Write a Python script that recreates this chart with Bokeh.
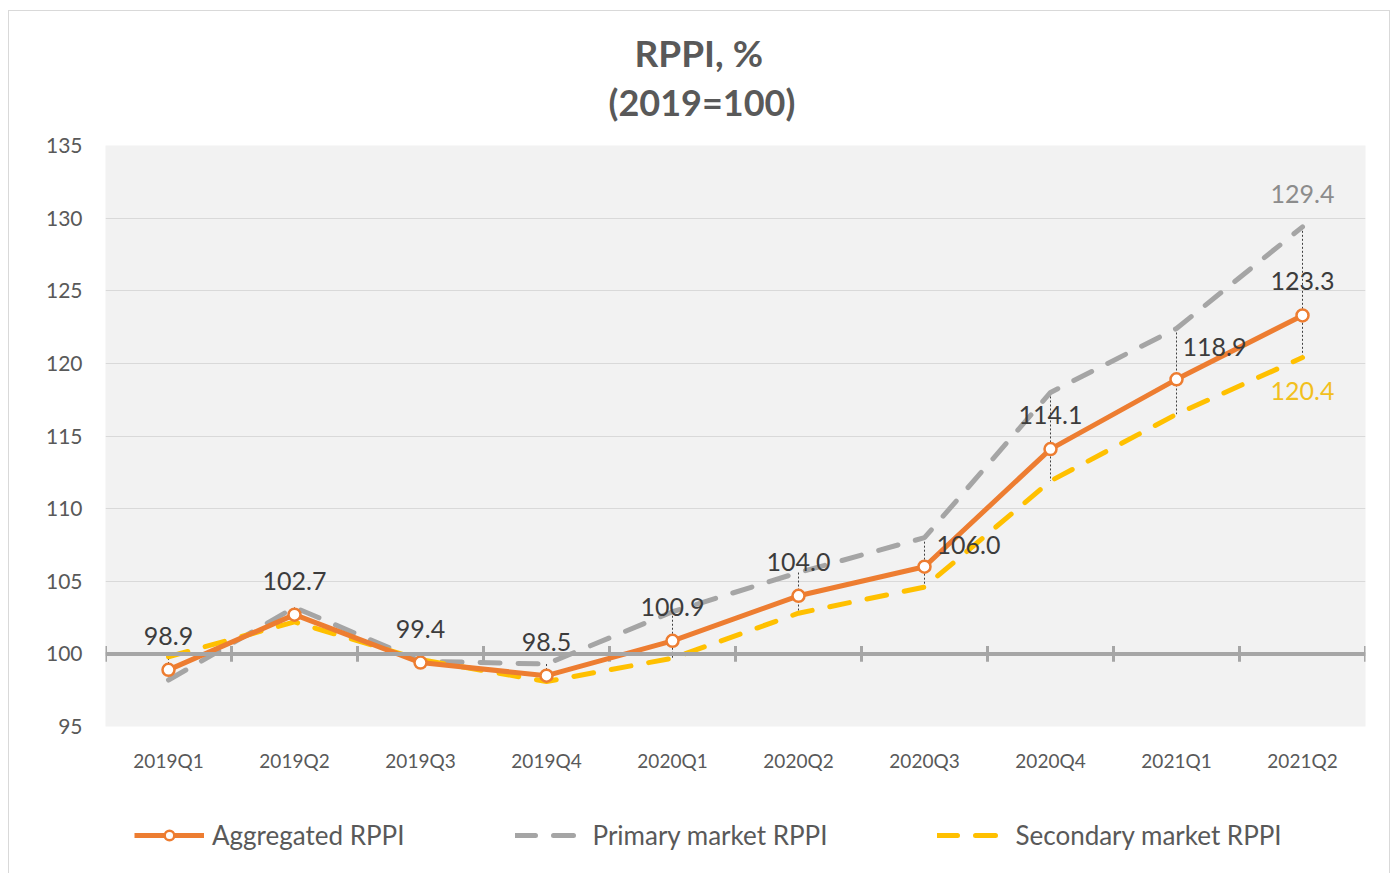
from bokeh.plotting import figure
from bokeh.layouts import column
from bokeh.models import (Range1d, FixedTicker, Span, Legend, LegendItem,
                          LabelSet, Label, ColumnDataSource, Title)
from bokeh.core.properties import value
from bokeh.embed import file_html
from bokeh.resources import INLINE

# ---- data ----
quarters = ["2019Q1", "2019Q2", "2019Q3", "2019Q4", "2020Q1",
            "2020Q2", "2020Q3", "2020Q4", "2021Q1", "2021Q2"]
aggregated = [98.9, 102.7, 99.4, 98.5, 100.9, 104.0, 106.0, 114.1, 118.9, 123.3]
primary = [98.2, 103.2, 99.5, 99.3, 102.9, 105.6, 108.0, 118.0, 122.4, 129.4]
secondary = [99.8, 102.2, 99.6, 98.1, 99.7, 102.8, 104.6, 111.9, 116.5, 120.4]
y_ticks = [95, 100, 105, 110, 115, 120, 125, 130, 135]
series_names = ["Aggregated RPPI", "Primary market RPPI", "Secondary market RPPI"]
base_value = 100

# ---- styles ----
ORANGE = "#ed7d31"
GRAY = "#a5a5a5"
YELLOW = "#ffc000"
TEXT = "#595959"
LABEL = "#3c3c3c"
UI = "Lato"
W = 1380

xs = [i + 1 for i in range(len(quarters))]
bounds = [i + 0.5 for i in range(len(quarters) + 1)]

p = figure(width=W, height=770, x_range=Range1d(0.5, len(quarters) + 0.5),
           y_range=Range1d(y_ticks[0], y_ticks[-1]),
           output_backend="svg", toolbar_location=None,
           min_border_left=96, min_border_right=24, min_border_top=134,
           min_border_bottom=55)

p.background_fill_color = "#f2f2f2"
p.border_fill_color = "white"
p.outline_line_color = None
p.xgrid.grid_line_color = None
p.ygrid.grid_line_color = "#d9d9d9"
p.ygrid.grid_line_width = 1

p.yaxis.ticker = FixedTicker(ticks=y_ticks)
p.yaxis.axis_line_color = None
p.yaxis.major_tick_line_color = None
p.yaxis.major_tick_out = 0
p.yaxis.minor_tick_line_color = None
p.yaxis.major_label_standoff = 23
p.yaxis.major_label_text_font = UI
p.yaxis.major_label_text_font_size = "21px"
p.yaxis.major_label_text_color = TEXT

p.xaxis.ticker = FixedTicker(ticks=xs)
p.xaxis.major_label_overrides = {x: q for x, q in zip(xs, quarters)}
p.xaxis.axis_line_color = None
p.xaxis.major_tick_line_color = None
p.xaxis.major_tick_out = 0
p.xaxis.minor_tick_line_color = None
p.xaxis.major_label_standoff = 22
p.xaxis.major_label_text_font = UI
p.xaxis.major_label_text_font_size = "19px"
p.xaxis.major_label_text_color = TEXT

# titles: spacer first (closest to frame), then second line, then first line
p.add_layout(Title(text=" ", text_font_size="1px", standoff=17), "above")
p.add_layout(Title(text="(2019=100)", align="left", offset=503, text_font=UI,
                   text_font_size="36px", text_font_style="bold",
                   text_color=TEXT, standoff=4), "above")
p.add_layout(Title(text="RPPI, %", align="left", offset=529, text_font=UI,
                   text_font_size="37px", text_font_style="bold",
                   text_color=TEXT, standoff=2), "above")

# base line at 100 with category boundary ticks
p.add_layout(Span(location=base_value, dimension="width",
                  line_color="#a6a6a6", line_width=4))
p.segment(x0=bounds, y0=[base_value - 0.55] * len(bounds),
          x1=bounds, y1=[base_value + 0.55] * len(bounds),
          line_color="#a6a6a6", line_width=3)

# drop lines between primary and secondary
p.segment(x0=xs, y0=primary, x1=xs, y1=secondary,
          line_color="#404040", line_width=1, line_dash="2 2")

p.line(xs, primary, line_color=GRAY, line_width=5,
       line_dash="20 18", line_cap="round")
p.line(xs, secondary, line_color=YELLOW, line_width=5,
       line_dash="20 18", line_cap="round")
p.line(xs, aggregated, line_color=ORANGE, line_width=5)
p.scatter(xs, aggregated, marker="circle", size=12,
          fill_color="white", line_color=ORANGE, line_width=2.5)

# data labels for aggregated
dx = [0] * len(xs)
dy = [34] * len(xs)
dx[6], dy[6] = 44, 22
dx[8], dy[8] = 38, 32
src = ColumnDataSource(dict(x=xs, y=aggregated,
                            t=[f"{v:.1f}" for v in aggregated],
                            dx=dx, dy=dy))
p.add_layout(LabelSet(x="x", y="y", text="t", source=src,
                      x_offset="dx", y_offset="dy",
                      text_align="center", text_baseline="middle",
                      text_font=value(UI), text_font_size="25px",
                      text_color=LABEL))
p.add_layout(Label(x=xs[-1], y=primary[-1], text=f"{primary[-1]:.1f}",
                   y_offset=33, text_align="center", text_baseline="middle",
                   text_font=UI, text_font_size="25px", text_color="#8c8c8c"))
p.add_layout(Label(x=xs[-1], y=secondary[-1], text=f"{secondary[-1]:.1f}",
                   y_offset=-33, text_align="center", text_baseline="middle",
                   text_font=UI, text_font_size="25px", text_color="#f2c01e"))

# ---- legend strip (same series, drawn outside its visible range) ----
lg = figure(width=W, height=92, x_range=Range1d(0, 0.5), y_range=Range1d(0, 1),
            x_axis_type=None, y_axis_type=None, output_backend="svg",
            toolbar_location=None, min_border=0)
lg.outline_line_color = None
lg.grid.grid_line_color = None
lg.background_fill_color = "white"
l_agg = lg.line(xs, aggregated, line_color=ORANGE, line_width=5)
l_pts = lg.scatter(xs, aggregated, marker="circle", size=12, fill_color="white",
                   line_color=ORANGE, line_width=2.5)
l_prim = lg.line(xs, primary, line_color=GRAY, line_width=5,
                 line_dash="20 18", line_cap="round")
l_sec = lg.line(xs, secondary, line_color=YELLOW, line_width=5,
                line_dash="20 18", line_cap="round")
legend = Legend(items=[
    LegendItem(label=series_names[0], renderers=[l_agg, l_pts]),
    LegendItem(label=series_names[1], renderers=[l_prim]),
    LegendItem(label=series_names[2], renderers=[l_sec]),
], orientation="horizontal", location=(29, 22), margin=0, padding=0,
    glyph_width=70, glyph_height=24, label_standoff=8, spacing=110,
    border_line_alpha=0, background_fill_alpha=0,
    label_text_font=UI, label_text_font_size="26px",
    label_text_color=TEXT)
lg.add_layout(legend, "center")

layout = column(p, lg, spacing=0,
                styles={"margin-left": "8px", "margin-top": "10px",
                        "border": "1px solid #d9d9d9"})

open("out.html", "w").write(file_html(layout, INLINE))
